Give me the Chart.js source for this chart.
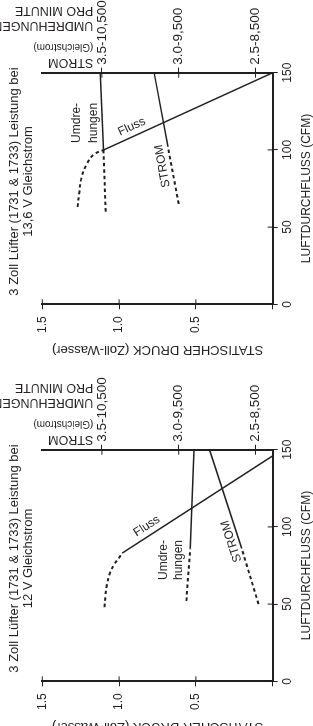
<!doctype html>
<html lang="de">
<head>
<meta charset="utf-8">
<style>
  html, body { margin: 0; padding: 0; width: 313px; height: 726px; overflow: hidden; background: #fff; }
  .box { position: absolute; left: -25px; width: 363px; height: 313px; transform: rotate(-90deg); }
  #box1 { top: 25px; }
  #box2 { top: 402px; }
</style>
</head>
<body>
<div class="box" id="box1"><canvas id="c1" width="363" height="313"></canvas></div>
<div class="box" id="box2"><canvas id="c2" width="363" height="313"></canvas></div>
<script src="https://cdn.jsdelivr.net/npm/chart.js"></script>
<script>
// axis ticks
const CFM_TICKS = [0, 50, 100, 150];
const PRESSURE_TICKS = [0, 0.5, 1.0, 1.5];
const AMP_TICKS = [2.5, 3.0, 3.5];
const RPM_TICKS = [8500, 9500, 10500];
const RIGHT_TICK_LABELS = ['2.5-8,500', '3.0-9,500', '3.5-10,500'];

// 13,6 V
const CFM_FLOW_136 = [100, 150];
const P_FLOW_136 = [1.10, 0];
const CFM_FLOW_136_LOW = [63, 72, 82, 91, 97, 100];
const P_FLOW_136_LOW = [1.27, 1.26, 1.245, 1.21, 1.165, 1.10];
const CFM_RPM_136 = [100, 150];
const RPM_136 = [10480, 10520];
const CFM_RPM_136_LOW = [60, 100];
const RPM_136_LOW = [10450, 10480];
const CFM_AMP_136 = [102, 150];
const AMP_136 = [3.07, 3.16];
const CFM_AMP_136_LOW = [65, 102];
const AMP_136_LOW = [3.00, 3.07];

// 12 V
const CFM_FLOW_12 = [83, 146];
const P_FLOW_12 = [0.98, 0];
const CFM_FLOW_12_LOW = [48, 55, 62, 70, 76, 80, 83];
const P_FLOW_12_LOW = [1.095, 1.09, 1.08, 1.06, 1.03, 1.0, 0.98];
const CFM_RPM_12 = [86, 150];
const RPM_12 = [9350, 9300];
const CFM_RPM_12_LOW = [52, 86];
const RPM_12_LOW = [9400, 9350];
const CFM_AMP_12 = [86, 150];
const AMP_12 = [2.59, 2.80];
const CFM_AMP_12_LOW = [50, 86];
const AMP_12_LOW = [2.48, 2.59];

const TITLE_1 = ['3 Zoll Lüfter (1731 & 1733) Leistung bei', '13,6 V Gleichstrom'];
const TITLE_2 = ['3 Zoll Lüfter (1731 & 1733) Leistung bei', '12 V Gleichstrom'];

const INK = '#231f20';
const FONT = '"Liberation Sans", Arial, sans-serif';
Chart.defaults.font.family = FONT;
Chart.defaults.color = INK;

// right axis range (amps), rpm axis follows the paired tick labels
const AMP_MIN = 2.388, AMP_MAX = 3.888;
const ampToRpm = a => RPM_TICKS[0] + (a - AMP_TICKS[0]) * (RPM_TICKS[1] - RPM_TICKS[0]) / (AMP_TICKS[1] - AMP_TICKS[0]);

const pts = (xs, ys) => xs.map((x, i) => ({x, y: ys[i]}));

function line(xs, ys, axis, dashed) {
  return {
    data: pts(xs, ys),
    yAxisID: axis,
    showLine: true,
    borderColor: INK,
    borderWidth: dashed ? 2 : 1.5,
    borderDash: dashed ? [3.5, 3] : [],
    tension: dashed ? 0.4 : 0,
    pointRadius: 0,
    fill: false
  };
}

// ticks that cross the axis line
const innerTicks = {
  id: 'innerTicks',
  afterDraw(chart) {
    const {ctx, chartArea: {left, right, bottom}, scales: {x, y, y1}} = chart;
    const len = 5;
    ctx.save();
    ctx.strokeStyle = INK;
    ctx.lineWidth = 1;
    ctx.beginPath();
    CFM_TICKS.forEach(v => { const p = x.getPixelForValue(v); ctx.moveTo(p, bottom); ctx.lineTo(p, bottom - len); });
    PRESSURE_TICKS.forEach(v => { const p = y.getPixelForValue(v); ctx.moveTo(left, p); ctx.lineTo(left + len, p); });
    AMP_TICKS.forEach(v => { const p = y1.getPixelForValue(v); ctx.moveTo(right, p); ctx.lineTo(right - len, p); });
    ctx.stroke();
    ctx.restore();
  }
};

// curve names and right axis title
const curveLabels = {
  id: 'curveLabels',
  afterDatasetsDraw(chart, args, opts) {
    const {ctx, chartArea: {right, top}, scales} = chart;
    const x = scales.x;
    ctx.save();
    ctx.fillStyle = INK;
    ctx.textBaseline = 'middle';
    opts.items.forEach(it => {
      const ys = scales[it.axis];
      ctx.font = '12px ' + FONT;
      let angle = 0;
      if (it.along) {
        const a = it.along[0], b = it.along[it.along.length - 1];
        angle = Math.atan2(ys.getPixelForValue(b.y) - ys.getPixelForValue(a.y), x.getPixelForValue(b.x) - x.getPixelForValue(a.x));
      }
      ctx.save();
      ctx.translate(x.getPixelForValue(it.at[0]), ys.getPixelForValue(it.at[1]));
      ctx.rotate(angle);
      ctx.textAlign = it.align || 'center';
      ctx.fillText(it.text, 0, 0);
      ctx.restore();
    });

    const rt = [['STROM', 12.5, 10], ['(Gleichstrom)', 10, 26], ['UMDREHUNGEN', 12.5, 47], ['PRO MINUTE', 12.5, 62]];
    rt.forEach(([t, size, off]) => {
      ctx.save();
      ctx.font = size + 'px ' + FONT;
      ctx.translate(right + off, top + 51);
      ctx.rotate(-Math.PI / 2);
      ctx.textAlign = 'left';
      ctx.fillText(t, 0, 0);
      ctx.restore();
    });
    ctx.restore();
  }
};

function makeChart(id, title, sets, items) {
  const tickGrid = {display: true, drawOnChartArea: false, drawTicks: true, tickLength: 5, color: INK, lineWidth: 1};
  const border = {display: true, color: INK, width: 2};
  return new Chart(document.getElementById(id), {
    type: 'scatter',
    data: {datasets: sets},
    options: {
      responsive: false,
      animation: false,
      devicePixelRatio: 1,
      layout: {padding: 0},
      plugins: {
        legend: {display: false},
        tooltip: {enabled: false},
        title: {display: true, text: title, color: INK, font: {size: 13, weight: 'normal', lineHeight: 1.1}, padding: {top: 7, bottom: 6.7}},
        curveLabels: {items}
      },
      scales: {
        x: {
          type: 'linear', min: 0, max: 150, position: 'bottom',
          afterBuildTicks: s => { s.ticks = CFM_TICKS.map(v => ({value: v})); },
          afterFit: s => { s.height = 40.3; },
          ticks: {autoSkip: false, maxRotation: 0, padding: 3, font: {size: 12}, callback: v => String(v)},
          grid: tickGrid, border,
          title: {display: true, text: 'LUFTDURCHFLUSS (CFM)', font: {size: 12, lineHeight: 1}, padding: 0}
        },
        y: {
          type: 'linear', min: 0, max: 1.5, position: 'left',
          afterBuildTicks: s => { s.ticks = PRESSURE_TICKS.map(v => ({value: v})); },
          afterFit: s => { s.width = 58.7; },
          ticks: {padding: 7, font: {size: 12}, callback: v => v === 0 ? '' : v.toFixed(1)},
          grid: tickGrid, border,
          title: {display: true, text: 'STATISCHER DRUCK (Zoll-Wasser)', font: {size: 13, lineHeight: 1}, padding: {top: 7, bottom: 0}}
        },
        y1: {
          type: 'linear', min: AMP_MIN, max: AMP_MAX, position: 'right',
          afterBuildTicks: s => { s.ticks = AMP_TICKS.map(v => ({value: v})); },
          afterFit: s => { s.width = 72.7; },
          ticks: {padding: 3, font: {size: 13.5}, callback: v => RIGHT_TICK_LABELS[AMP_TICKS.indexOf(v)]},
          grid: tickGrid, border
        },
        y2: {type: 'linear', display: false, min: ampToRpm(AMP_MIN), max: ampToRpm(AMP_MAX)}
      }
    },
    plugins: [innerTicks, curveLabels]
  });
}

const sets1 = [
  line(CFM_FLOW_136, P_FLOW_136, 'y', false),
  line(CFM_FLOW_136_LOW, P_FLOW_136_LOW, 'y', true),
  line(CFM_RPM_136, RPM_136, 'y2', false),
  line(CFM_RPM_136_LOW, RPM_136_LOW, 'y2', true),
  line(CFM_AMP_136, AMP_136, 'y1', false),
  line(CFM_AMP_136_LOW, AMP_136_LOW, 'y1', true)
];
makeChart('c1', TITLE_1, sets1, [
  {text: 'Fluss', axis: 'y', at: [115, 0.918], along: sets1[0].data},
  {text: 'STROM', axis: 'y1', at: [89.6, 3.105], along: sets1[4].data},
  {text: 'Umdre-', axis: 'y', at: [104.5, 1.276], align: 'left'},
  {text: 'hungen', axis: 'y', at: [104.5, 1.168], align: 'left'}
]);

const sets2 = [
  line(CFM_FLOW_12, P_FLOW_12, 'y', false),
  line(CFM_FLOW_12_LOW, P_FLOW_12_LOW, 'y', true),
  line(CFM_RPM_12, RPM_12, 'y2', false),
  line(CFM_RPM_12_LOW, RPM_12_LOW, 'y2', true),
  line(CFM_AMP_12, AMP_12, 'y1', false),
  line(CFM_AMP_12_LOW, AMP_12_LOW, 'y1', true)
];
makeChart('c2', TITLE_2, sets2, [
  {text: 'Fluss', axis: 'y', at: [100.5, 0.82], along: sets2[0].data},
  {text: 'STROM', axis: 'y1', at: [90.7, 2.656], along: sets2[4].data},
  {text: 'Umdre-', axis: 'y', at: [65.6, 0.708], align: 'left'},
  {text: 'hungen', axis: 'y', at: [65.6, 0.61], align: 'left'}
]);
</script>
</body>
</html>
